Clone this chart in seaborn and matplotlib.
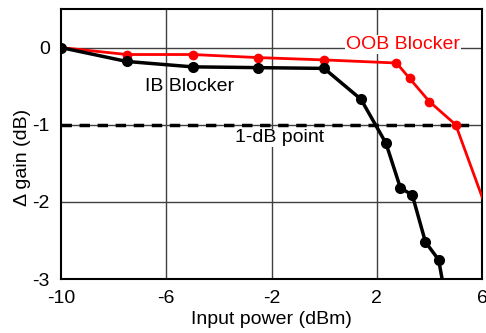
import matplotlib
matplotlib.use("Agg")
import matplotlib.pyplot as plt
import seaborn as sns
import pandas as pd

ib_x = [-10, -7.5, -5, -2.5, 0, 1.4, 2.35, 2.9, 3.35, 3.85, 4.35, 4.7]
ib_y = [0, -0.18, -0.25, -0.26, -0.27, -0.67, -1.24, -1.82, -1.91, -2.52, -2.75, -3.4]
oob_x = [-10, -7.5, -5, -2.5, 0, 2.75, 3.25, 4.0, 5.0, 6.5]
oob_y = [0, -0.09, -0.09, -0.13, -0.16, -0.20, -0.40, -0.70, -1.0, -2.4]
xticks = [-10, -6, -2, 2, 6]
yticks = [0, -1, -2, -3]

sns.set_theme(style="white")
plt.rcParams['font.family'] = ['Liberation Sans', 'DejaVu Sans']
plt.rcParams['axes.unicode_minus'] = False

fig = plt.figure(figsize=(4.86, 3.33), dpi=100)
ax = fig.add_axes([0.1255, 0.162, 0.8663, 0.811])

for v in [-6, -2, 2]:
    ax.axvline(v, color='#404040', lw=1.0, zorder=0)
for v in [0, -1, -2]:
    ax.axhline(v, color='#404040', lw=1.0, zorder=0)

ax.plot([-10, 5.6], [-1, -1], color='black', lw=2.5, ls=(0, (3, 2.2)), zorder=1)

df_ib = pd.DataFrame({'x': ib_x, 'y': ib_y})
df_oob = pd.DataFrame({'x': oob_x, 'y': oob_y})
sns.lineplot(data=df_oob, x='x', y='y', sort=False, color='#ff0000', lw=2,
             marker='o', markersize=7, markeredgewidth=0, ax=ax, zorder=3)
sns.lineplot(data=df_ib, x='x', y='y', sort=False, color='black', lw=2.5,
             marker='o', markersize=8, markeredgewidth=0, ax=ax, zorder=4)

ax.set_xlim(-10, 6)
ax.set_ylim(-3, 0.5)
ax.set_xticks(xticks)
ax.set_yticks(yticks)
ax.set_xticklabels([str(t) for t in xticks])
ax.set_yticklabels([str(t) for t in yticks])
ax.tick_params(axis='x', length=0, labelsize=14, pad=8, colors='black')
ax.tick_params(axis='y', length=0, labelsize=14, pad=8, colors='black')
for s in ax.spines.values():
    s.set_color('black')
    s.set_linewidth(1.5)

ax.set_xlabel('Input power (dBm)', fontsize=14, labelpad=3, color='black')
ax.set_ylabel('Δ gain (dB)', fontsize=14, color='black')
ax.yaxis.set_label_coords(-0.072, 0.45)

ax.text(3.0, 0.04, 'OOB Blocker', color='#ff0000', fontsize=14, ha='center', va='center',
        bbox=dict(facecolor='white', edgecolor='none', pad=0.5), zorder=5)
ax.text(-5.1, -0.5, 'IB Blocker', color='black', fontsize=14, ha='center', va='center', zorder=5)
ax.text(-1.7, -1.17, '1-dB point', color='black', fontsize=14, ha='center', va='center',
        bbox=dict(facecolor='white', edgecolor='none', pad=0.5), zorder=5)

fig.savefig('out.png', dpi=100)
